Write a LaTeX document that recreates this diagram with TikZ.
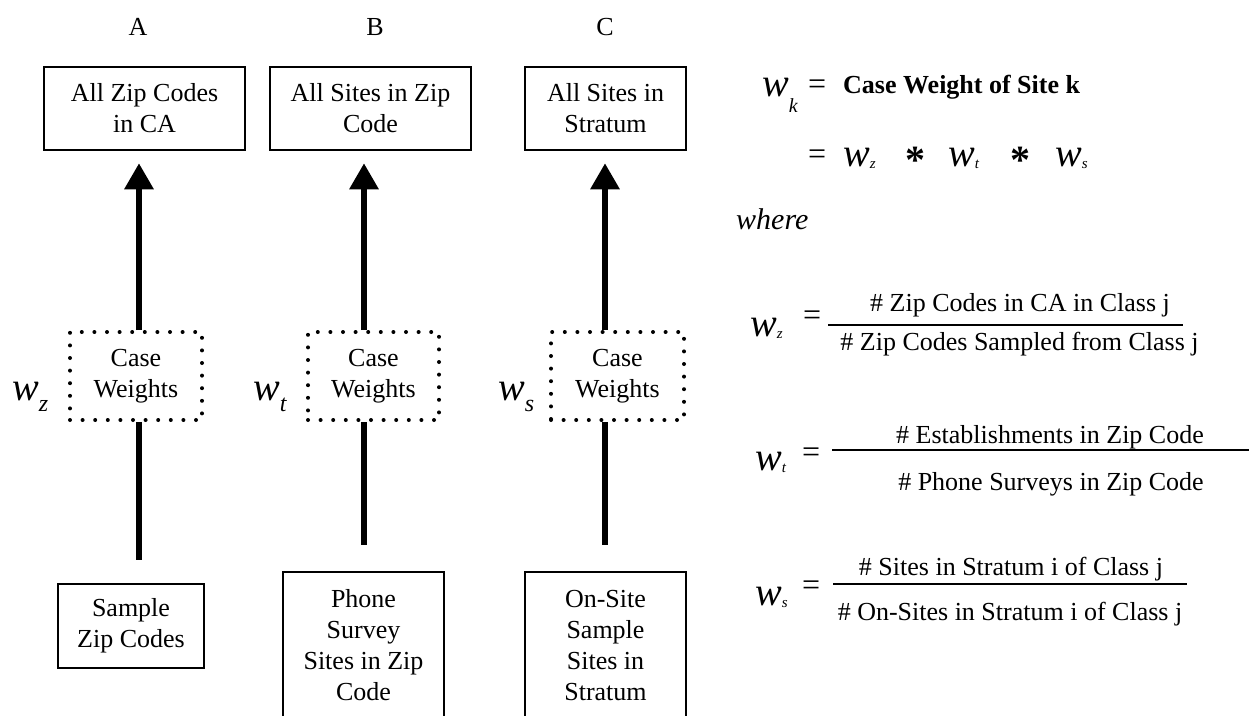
\documentclass[tikz,border=0pt]{standalone}
\usepackage{fontspec}
\setmainfont{Liberation Serif}
\usetikzlibrary{arrows.meta}

% italic w with a subscript: size of w, size of sub, drop, sub
\newcommand{\wlab}[4]{{\fontsize{#1}{#1}\selectfont\itshape w}\raisebox{#3}{\fontsize{#2}{#2}\selectfont\itshape #4}}

\begin{document}
\begin{tikzpicture}
			[x=1pt,y=-1pt,every node/.style={inner sep=0pt,font=\fontsize{26}{31}\selectfont},
			framebox/.style={draw,line width=2.5pt,align=center},
			dotbox/.style={draw,line width=4pt,dash pattern=on 0pt off 12.6pt,line cap=round,align=center},
			stemline/.style={line width=6pt},
			uparrow/.style={stemline,-{Triangle[width=28pt,length=26pt]},shorten >=12pt},
			eqsign/.style={anchor=base west,font=\fontsize{32}{32}\selectfont},
			timesign/.style={anchor=base west,font=\fontsize{40}{40}\selectfont\bfseries},
			fracbar/.style={line width=2pt}]
				\useasboundingbox (0,0) rectangle (1249,715);
				% column letters
				\node (lA) at (138,27) {A};
				\node (lB) at (375,27) {B};
				\node (lC) at (605,27) {C};
				% populations
				\node[framebox,minimum width=201pt,minimum height=83pt] (tA) at (144.5,108.5) {All Zip Codes\\in CA};
				\node[framebox,minimum width=201pt,minimum height=83pt] (tB) at (370.5,108.5) {All Sites in Zip\\Code};
				\node[framebox,minimum width=161pt,minimum height=83pt] (tC) at (605.5,108.5) {All Sites in\\Stratum};
				% case weights
				\node[dotbox,minimum width=132pt,minimum height=88pt] (dA) at (136,376) {Case\\Weights};
				\node[dotbox,minimum width=131pt,minimum height=88pt] (dB) at (373.5,376) {Case\\Weights};
				\node[dotbox,minimum width=133pt,minimum height=88pt] (dC) at (617.5,376) {Case\\Weights};
				% samples
				\node[framebox,minimum width=146pt,minimum height=84pt] (bA) at (131,626) {Sample\\Zip Codes};
				\node[framebox,minimum width=161pt,minimum height=147pt] (bB) at (363.5,645.5) {Phone\\Survey\\Sites in Zip\\Code};
				\node[framebox,minimum width=161pt,minimum height=147pt] (bC) at (605.5,645.5) {On-Site\\Sample\\Sites in\\Stratum};
				% weight labels
				\node[anchor=base west] (wz) at (12,400) {\wlab{40}{24}{-11pt}{z}};
				\node[anchor=base west] (wt) at (253,400) {\wlab{40}{24}{-11pt}{t}};
				\node[anchor=base west] (ws) at (498,400) {\wlab{40}{24}{-11pt}{s}};
				\coordinate (xA) at (139,0);
				\coordinate (xB) at (364,0);
				\coordinate (xC) at (605,0);
				\coordinate (eA) at (139,560);
				\coordinate (eB) at (364,545);
				\coordinate (eC) at (605,545);
				\foreach \c in {A,B,C}{
					\draw[uparrow] (d\c.north -| x\c) -- (t\c.south -| x\c);
					\draw[stemline] (d\c.south -| x\c) -- (e\c);
				}
				% definition of the case weight
				\node[anchor=base west] (wk) at (762,96) {\wlab{40}{20}{-16pt}{k}};
				\node[eqsign] (eqk) at (808,94) {=};
				\node[anchor=base west,font=\fontsize{26}{26}\selectfont\bfseries] (def) at (843,93) {Case Weight of Site k};
				\node[eqsign] (eqp) at (808,164) {=};
				\node[anchor=base west] (pz) at (843,166) {\wlab{40}{15}{-2pt}{z}};
				\node[timesign] (m1) at (905,173) {*};
				\node[anchor=base west] (pt) at (948,166) {\wlab{40}{15}{-2pt}{t}};
				\node[timesign] (m2) at (1010,173) {*};
				\node[anchor=base west] (ps) at (1055,166) {\wlab{40}{15}{-2pt}{s}};
				\node[anchor=base west,font=\fontsize{30}{30}\selectfont\itshape] (where) at (736,229) {where};
				% w_z
				\node[anchor=base west] (fz) at (750,336) {\wlab{40}{15}{-2pt}{z}};
				\node[eqsign] (qz) at (803,325) {=};
				\node[anchor=base] (nz) at (1020,311) {\# Zip Codes in CA in Class j};
				\node[anchor=base] (dz) at (1019.5,350) {\# Zip Codes Sampled from Class j};
				\draw[fracbar] (828,325) -- (1183,325);
				% w_t
				\node[anchor=base west] (ft) at (755,470) {\wlab{40}{15}{-2pt}{t}};
				\node[eqsign] (qt) at (802,462) {=};
				\node[anchor=base] (nt) at (1050,443) {\# Establishments in Zip Code};
				\node[anchor=base] (dt) at (1051,490) {\# Phone Surveys in Zip Code};
				\draw[fracbar] (832,450) -- (1249,450);
				% w_s
				\node[anchor=base west] (fs) at (755,605) {\wlab{40}{15}{-2pt}{s}};
				\node[eqsign] (qs) at (802,595) {=};
				\node[anchor=base] (ns) at (1011,575) {\# Sites in Stratum i of Class j};
				\node[anchor=base] (ds) at (1010,620) {\# On-Sites in Stratum i of Class j};
				\draw[fracbar] (833,584) -- (1187,584);
			\end{tikzpicture}
\end{document}
